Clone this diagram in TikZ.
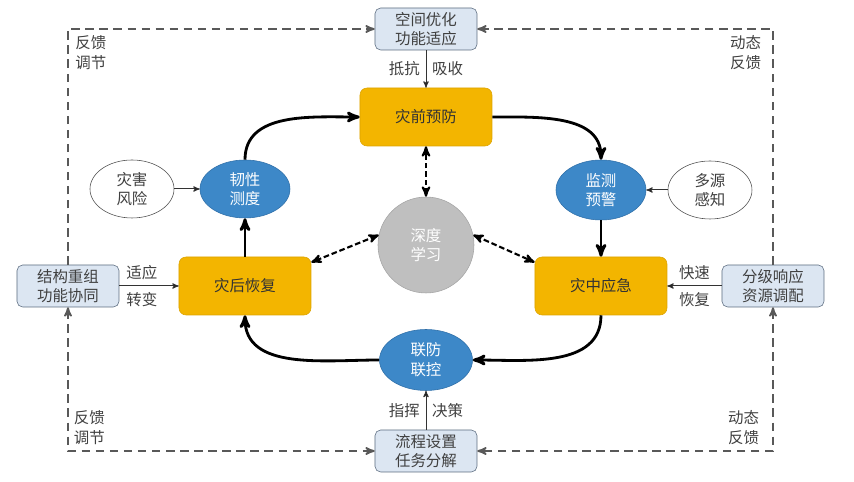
\documentclass[tikz,border=0pt]{standalone}
\usepackage{fontspec}
\setmainfont{Noto Sans CJK SC}
\usetikzlibrary{positioning, arrows, shapes}

\definecolor{stagefill}{HTML}{F3B500}
\definecolor{stageline}{HTML}{DCA300}
\definecolor{ringfill}{HTML}{3D88C8}
\definecolor{ringline}{HTML}{2F6FA8}
\definecolor{boxfill}{HTML}{DCE6F2}
\definecolor{boxline}{HTML}{5B6B7F}
\definecolor{hubfill}{HTML}{BFBFBF}
\definecolor{hubline}{HTML}{A5A5A5}
\definecolor{textgray}{HTML}{404040}
\definecolor{framegray}{HTML}{595959}

\begin{document}
\begin{tikzpicture}[>=stealth', on grid, node distance = 2cm,
    font=\fontsize{11}{14}\selectfont,
    stage/.style={rectangle, rounded corners=5pt, draw=stageline, fill=stagefill, text=black!80, minimum width=3.3cm, minimum height=1.45cm},
    ring/.style={ellipse, draw=ringline, fill=ringfill, text=white, align=center, inner sep=0pt, minimum width=2.25cm, minimum height=1.45cm},
    source/.style={ellipse, draw=black!70, fill=white, text=textgray, align=center, inner sep=0pt, minimum width=2.1cm, minimum height=1.45cm},
    task/.style={rectangle, rounded corners=4pt, draw=boxline, fill=boxfill, text=textgray, align=center, inner sep=1pt, minimum width=2.55cm, minimum height=1.05cm},
    hub/.style={circle, draw=hubline, fill=hubfill, text=white, align=center, minimum size=2.4cm},
    note/.style={text=textgray, align=left, inner sep=4pt},
    loopflow/.style={->, line width=2pt},
    feed/.style={->, line width=0.7pt, draw=black!80},
    learn/.style={<->, line width=1.5pt, dash pattern=on 4pt off 2pt},
    outer/.style={->, draw=framegray, line width=1.3pt, dash pattern=on 6pt off 4pt}
]
    \useasboundingbox (-10.65,6.125) rectangle (10.7,-5.925);

    \node[hub] (dl) at (0,0) {深度\\学习};
    \node[stage] (pre) [above = 3.2cm of dl] {灾前预防};
    \node[task] (space) [above = 2.2cm of pre] {空间优化\\功能适应};
    \node[stage] (during) [below right = 1.025cm and 4.375cm of dl] {灾中应急};
    \node[stage] (post) [below left = 1.025cm and 4.525cm of dl] {灾后恢复};
    \node[ring, minimum width=2.325cm, minimum height=1.525cm] (joint) [below = 2.875cm of dl] {联防\\联控};
    \node[task] (flow) [below = 2.275cm of joint] {流程设置\\任务分解};
    \node[ring] (resil) [above = 2.425cm of post] {韧性\\测度};
    \node[source] (hazard) [left = 2.825cm of resil] {灾害\\风险};
    \node[ring, minimum height=1.5cm] (monitor) [above = 2.4cm of during] {监测\\预警};
    \node[source] (multi) [right = 2.725cm of monitor] {多源\\感知};
    \node[task] (restr) [left = 4.425cm of post] {结构重组\\功能协同};
    \node[task] (graded) [right = 4.3cm of during] {分级响应\\资源调配};

    \coordinate (tl) at (restr |- space);
    \coordinate (tr) at (graded |- space);
    \coordinate (bl) at (restr |- flow);
    \coordinate (br) at (graded |- flow);

    \node[note, anchor=north west] (fbtl) at ([shift={(0.04,-0.02)}]tl) {反馈\\调节};
    \node[note, anchor=north east] (fbtr) at ([shift={(-0.15,-0.02)}]tr) {动态\\反馈};
    \node[note, anchor=south west] (fbbl) at ([shift={(0,0.02)}]bl) {反馈\\调节};
    \node[note, anchor=south east] (fbbr) at ([shift={(-0.2,0.02)}]br) {动态\\反馈};

    \path[loopflow]
      (resil) edge [out=90, in=180] (pre)
      (pre) edge [out=0, in=90] (monitor)
      (monitor) edge (during)
      (during) edge [out=-90, in=0] (joint)
      (joint) edge [out=180, in=-90] (post)
      (post) edge (resil)
    ;

    \path[feed]
      (space) edge node[note, left] {抵抗} node[note, right] {吸收} (pre)
      (flow) edge node[note, left] {指挥} node[note, right] {决策} (joint)
      (restr) edge node[note, above, pos=0.38] {适应} node[note, below, pos=0.38] {转变} (post)
      (graded) edge node[note, above] {快速} node[note, below] {恢复} (during)
      (hazard) edge (resil)
      (multi) edge (monitor)
    ;

    \path[learn]
      (dl) edge (pre)
      (dl.168) edge ([yshift=-4pt]post.north east)
      (dl.12) edge ([yshift=-4pt]during.north west)
    ;

    \draw[outer] (restr.north) |- (space.west);
    \draw[outer] (graded.north) |- (space.east);
    \draw[outer, <->] (restr.south) |- (flow.west);
    \draw[outer, <->] (graded.south) |- (flow.east);
  \end{tikzpicture}
\end{document}
